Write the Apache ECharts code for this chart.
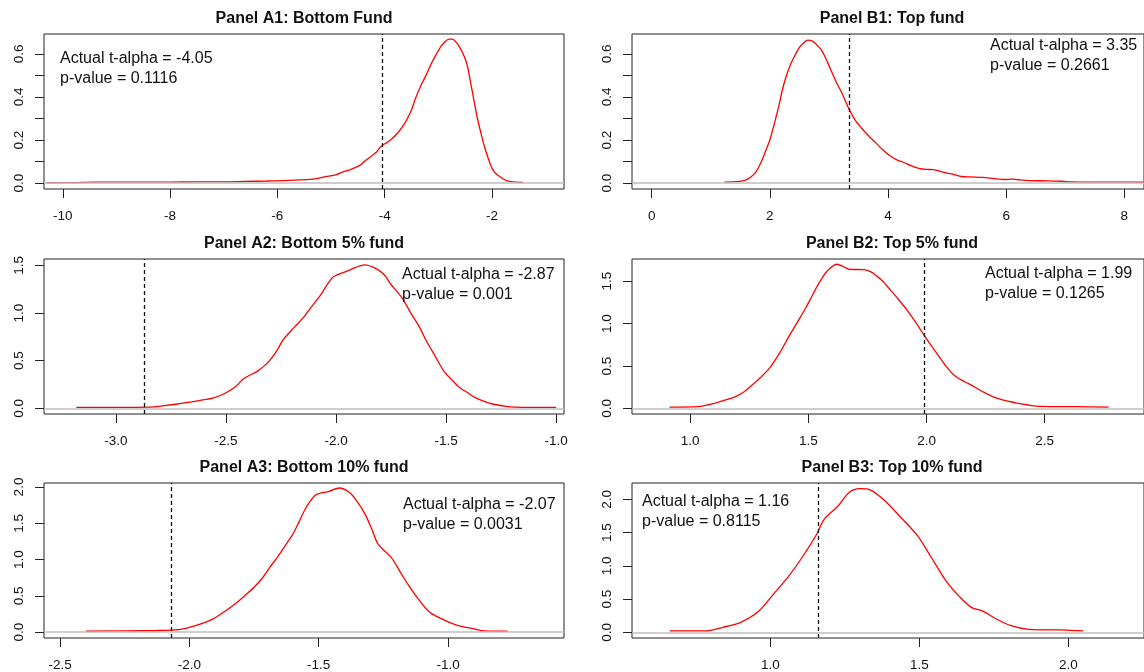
<!DOCTYPE html>
<html>
<head>
<meta charset="utf-8">
<script src="https://cdn.jsdelivr.net/npm/echarts@6/dist/echarts.min.js"></script>
<style>html,body{margin:0;padding:0;background:#fff}#c{width:1144px;height:672px}</style>
</head>
<body>
<div id="c"></div>
<script>
// ---------- data ----------
const panelTitles = ['Panel A1: Bottom Fund','Panel B1: Top fund','Panel A2: Bottom 5% fund','Panel B2: Top 5% fund','Panel A3: Bottom 10% fund','Panel B3: Top 10% fund'];
const tAlpha = [-4.05, 3.35, -2.87, 1.99, -2.07, 1.16];
const pValues = ['0.1116', '0.2661', '0.001', '0.1265', '0.0031', '0.8115'];

const a1X = [-10.3,-9.8,-9.4,-9.0,-8.5,-8.0,-7.5,-7.0,-6.6,-6.2,-5.9,-5.6,-5.3,-5.1,-4.9,-4.79,-4.65,-4.55,-4.45,-4.38,-4.25,-4.15,-4.07,-3.95,-3.87,-3.75,-3.62,-3.5,-3.43,-3.33,-3.23,-3.12,-3.02,-2.95,-2.88,-2.8,-2.74,-2.68,-2.6,-2.52,-2.46,-2.4,-2.34,-2.27,-2.21,-2.14,-2.07,-2.0,-1.93,-1.83,-1.73,-1.6,-1.42];
const a1Y = [0.002,0.003,0.005,0.005,0.005,0.005,0.006,0.006,0.008,0.010,0.012,0.015,0.020,0.030,0.040,0.051,0.062,0.072,0.085,0.100,0.125,0.145,0.170,0.190,0.205,0.235,0.280,0.340,0.390,0.450,0.500,0.560,0.605,0.635,0.655,0.668,0.668,0.658,0.630,0.590,0.546,0.470,0.390,0.300,0.237,0.170,0.116,0.070,0.045,0.026,0.012,0.006,0.004];

const b1X = [1.23,1.48,1.6,1.67,1.76,1.85,1.93,2.0,2.08,2.15,2.21,2.27,2.35,2.42,2.5,2.58,2.64,2.73,2.8,2.88,2.97,3.06,3.14,3.21,3.28,3.36,3.45,3.55,3.67,3.79,3.91,4.03,4.15,4.27,4.4,4.52,4.64,4.76,4.88,5.0,5.12,5.24,5.4,5.61,5.8,5.97,6.1,6.2,6.39,6.7,6.94,7.1,7.5,8.0,8.4];
const b1Y = [0.005,0.008,0.015,0.027,0.050,0.096,0.150,0.200,0.280,0.356,0.430,0.490,0.550,0.590,0.630,0.653,0.664,0.658,0.640,0.615,0.565,0.508,0.460,0.424,0.380,0.333,0.290,0.256,0.220,0.188,0.155,0.127,0.108,0.096,0.080,0.069,0.064,0.063,0.055,0.047,0.040,0.031,0.029,0.027,0.021,0.017,0.019,0.016,0.012,0.011,0.009,0.006,0.005,0.005,0.004];

const a2X = [-3.18,-3.0,-2.85,-2.78,-2.72,-2.67,-2.6,-2.56,-2.51,-2.46,-2.42,-2.39,-2.36,-2.31,-2.27,-2.24,-2.19,-2.15,-2.11,-2.07,-2.04,-2.01,-1.95,-1.91,-1.87,-1.82,-1.78,-1.75,-1.7,-1.66,-1.62,-1.59,-1.55,-1.51,-1.47,-1.44,-1.4,-1.37,-1.33,-1.29,-1.22,-1.15,-1.0];
const a2Y = [0.010,0.010,0.012,0.028,0.045,0.063,0.090,0.108,0.150,0.220,0.310,0.350,0.385,0.480,0.600,0.720,0.850,0.950,1.070,1.190,1.300,1.385,1.440,1.480,1.507,1.470,1.400,1.300,1.160,1.000,0.850,0.710,0.550,0.390,0.290,0.220,0.160,0.115,0.075,0.045,0.017,0.010,0.010];

const b2X = [0.913,1.035,1.07,1.11,1.15,1.19,1.23,1.26,1.3,1.34,1.38,1.416,1.45,1.49,1.52,1.55,1.58,1.62,1.65,1.675,1.736,1.765,1.79,1.815,1.84,1.88,1.92,1.96,1.995,2.025,2.056,2.085,2.117,2.15,2.18,2.24,2.3,2.376,2.43,2.48,2.635,2.77];
const b2Y = [0.015,0.020,0.040,0.066,0.100,0.136,0.200,0.270,0.370,0.490,0.660,0.840,1.000,1.190,1.350,1.500,1.620,1.700,1.670,1.640,1.636,1.610,1.560,1.500,1.420,1.290,1.150,0.990,0.840,0.720,0.600,0.490,0.390,0.330,0.290,0.195,0.117,0.066,0.040,0.023,0.020,0.015];

const a3X = [-2.4,-2.126,-2.04,-1.983,-1.91,-1.858,-1.82,-1.787,-1.75,-1.717,-1.69,-1.66,-1.63,-1.6,-1.575,-1.55,-1.53,-1.51,-1.46,-1.42,-1.38,-1.35,-1.32,-1.295,-1.27,-1.22,-1.18,-1.15,-1.12,-1.07,-1.01,-0.96,-0.9,-0.86,-0.77];
const a3Y = [0.013,0.023,0.036,0.082,0.180,0.300,0.400,0.500,0.620,0.750,0.890,1.030,1.190,1.350,1.530,1.710,1.820,1.895,1.940,1.986,1.920,1.790,1.620,1.420,1.210,1.030,0.800,0.630,0.480,0.270,0.160,0.090,0.046,0.018,0.013];

const b3X = [0.662,0.78,0.84,0.9,0.96,1.01,1.058,1.106,1.155,1.18,1.227,1.263,1.3,1.336,1.385,1.433,1.494,1.54,1.589,1.637,1.674,1.71,1.758,1.807,1.867,1.976,2.05];
const b3Y = [0.020,0.020,0.075,0.150,0.315,0.575,0.825,1.125,1.475,1.700,1.900,2.100,2.160,2.140,1.975,1.750,1.450,1.125,0.775,0.525,0.375,0.325,0.200,0.100,0.045,0.035,0.020];

const xTicks = [[-10,-8,-6,-4,-2],[0,2,4,6,8],[-3,-2.5,-2,-1.5,-1],[1,1.5,2,2.5],[-2.5,-2,-1.5,-1],[1,1.5,2]];
const xDigits = [0,0,1,1,1,1];
const yTicks = [[0,0.1,0.2,0.3,0.4,0.5,0.6],[0,0.1,0.2,0.3,0.4,0.5,0.6],[0,0.5,1,1.5],[0,0.5,1,1.5],[0,0.5,1,1.5,2],[0,0.5,1,1.5,2]];
const yLabels = [[0,0.2,0.4,0.6],[0,0.2,0.4,0.6],[0,0.5,1,1.5],[0,0.5,1,1.5],[0,0.5,1,1.5,2],[0,0.5,1,1.5,2]];

const seriesX = [a1X,b1X,a2X,b2X,a3X,b3X];
const seriesY = [a1Y,b1Y,a2Y,b2Y,a3Y,b3Y];

// ---------- layout ----------
const xRange = [[-10.35,-0.657],[-0.333,8.333],[-3.327,-0.964],[0.754,2.92],[-2.562,-0.552],[0.535,2.254]];
const yRange = [[-0.027,0.692],[-0.027,0.692],[-0.06,1.568],[-0.066,1.762],[-0.08,2.055],[-0.086,2.246]];
const colLeft = [44, 632];
const rowTop = [34, 259, 483];
const GW = 520, GH = 155;
const textPos = [[60,49],[990,36],[402,265],[985,264],[403,495],[642,492]];

const FONT = '"Liberation Sans", Arial, Helvetica, sans-serif';
const grids = [], xAxes = [], yAxes = [], series = [], titles = [], graphics = [];

for (let i = 0; i < 6; i++) {
  const left = colLeft[i % 2], top = rowTop[Math.floor(i / 2)];
  grids.push({left: left, top: top, width: GW, height: GH, show: true, borderColor: '#222', borderWidth: 1, backgroundColor: 'rgba(0,0,0,0)'});
  const xd = xDigits[i];
  xAxes.push({
    type: 'value', gridIndex: i, min: xRange[i][0], max: xRange[i][1], position: 'bottom',
    axisLine: {show: false, onZero: false}, splitLine: {show: false},
    axisTick: {show: true, length: 9, lineStyle: {color: '#222', width: 1}, customValues: xTicks[i]},
    axisLabel: {customValues: xTicks[i], margin: 20, color: '#111', fontSize: 13.5, fontFamily: FONT,
      formatter: v => Number(v).toFixed(xd)}
  });
  yAxes.push({
    type: 'value', gridIndex: i, min: yRange[i][0], max: yRange[i][1], position: 'left',
    axisLine: {show: false, onZero: false}, splitLine: {show: false},
    axisTick: {show: true, length: 9, lineStyle: {color: '#222', width: 1}, customValues: yTicks[i]},
    axisLabel: {customValues: yLabels[i], margin: 18, rotate: 90, color: '#111', fontSize: 13.5, fontFamily: FONT,
      formatter: v => Number(v).toFixed(1)}
  });
  const pts = seriesX[i].map((x, k) => [x, seriesY[i][k]]);
  series.push({
    type: 'line', xAxisIndex: i, yAxisIndex: i, data: pts, showSymbol: false, symbol: 'none',
    smooth: 0.3, clip: true,
    lineStyle: {color: '#ff0000', width: 1.3},
    markLine: {
      silent: true, symbol: ['none', 'none'], label: {show: false}, animation: false,
      data: [
        {yAxis: 0, lineStyle: {color: '#bebebe', width: 1.5, type: 'solid'}},
        {xAxis: tAlpha[i], lineStyle: {color: '#111', width: 1.3, type: [4, 3]}}
      ]
    }
  });
  titles.push({
    text: panelTitles[i], left: left + GW / 2, top: top - 15, textAlign: 'center', textVerticalAlign: 'middle', padding: 0,
    textStyle: {fontSize: 16, fontWeight: 'bold', fontFamily: FONT, color: '#111'}
  });
  graphics.push({
    type: 'text', x: textPos[i][0], y: textPos[i][1], z: 100,
    style: {text: 'Actual t-alpha = ' + tAlpha[i].toFixed(2) + '\np-value = ' + pValues[i],
      font: '16px ' + FONT, fill: '#111', lineHeight: 20, verticalAlign: 'top', align: 'left'}
  });
}

const chart = echarts.init(document.getElementById('c'), null, {renderer: 'canvas'});
chart.setOption({
  animation: false,
  backgroundColor: '#ffffff',
  title: titles,
  grid: grids,
  xAxis: xAxes,
  yAxis: yAxes,
  series: series,
  graphic: graphics
});
</script>
</body>
</html>
